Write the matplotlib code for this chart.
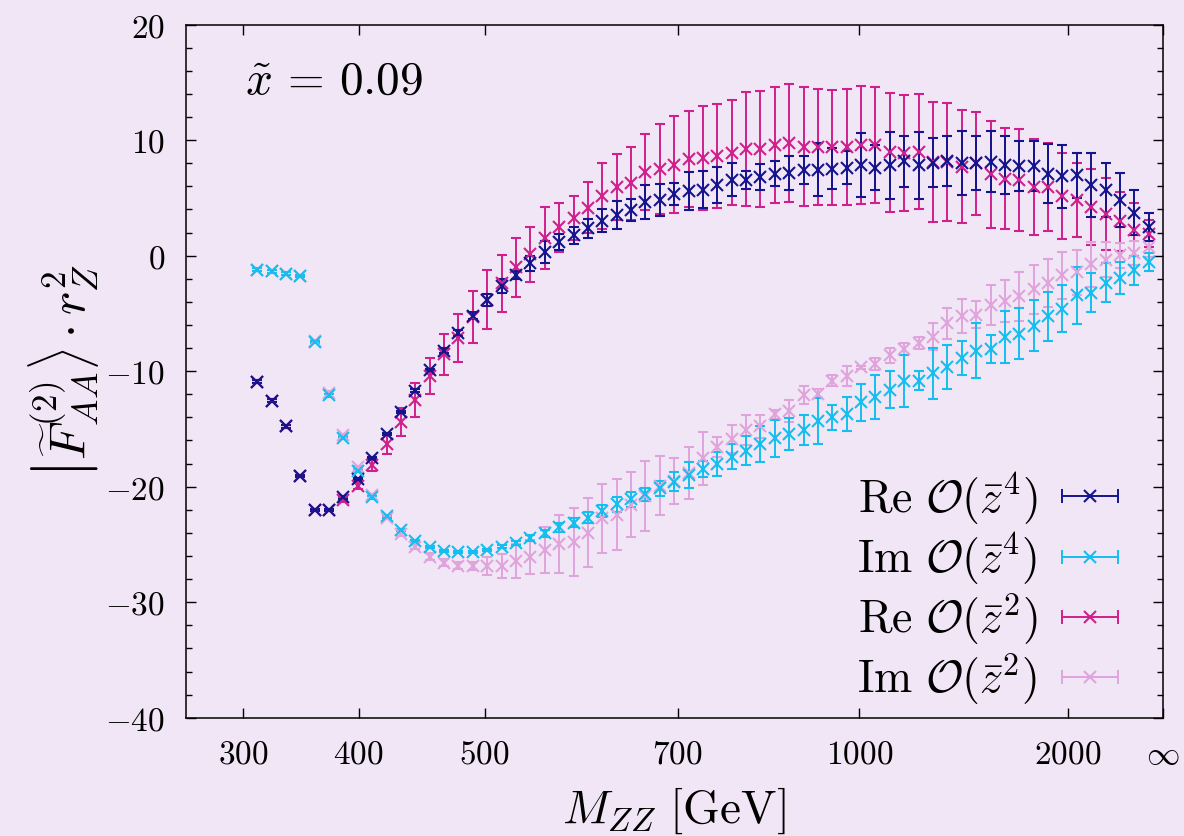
import numpy as np
import matplotlib
matplotlib.use("Agg")
import matplotlib.pyplot as plt
from matplotlib.lines import Line2D
from matplotlib.legend_handler import HandlerLine2D
from matplotlib.ticker import FixedLocator, FixedFormatter, MultipleLocator, NullLocator

plt.rcParams['mathtext.fontset'] = 'cm'
plt.rcParams['font.family'] = ['DejaVu Serif']

# ---------------- data ----------------
M_ZZ = [309.4, 319.7, 330.6, 342.4, 355.0, 368.6, 383.2, 399.1, 408.8, 418.6,
        428.8, 439.6, 450.9, 462.8, 475.3, 488.6, 502.0, 512.9, 524.4, 536.3,
        548.9, 562.0, 575.8, 590.3, 605.4, 621.5, 638.4, 656.2, 675.0, 695.0,
        712.8, 730.5, 749.1, 768.6, 789.2, 810.9, 833.8, 858.1, 883.9, 911.2,
        940.2, 971.3, 1004.4, 1040.5, 1079.2, 1121.0, 1166.1, 1214.9, 1268.1, 1326.1,
        1389.7, 1459.6, 1536.8, 1622.9, 1719.1, 1827.5, 1950.4, 2211.4, 2656.0, 3324.0,
        4441.0, 6689.0, 13550.0]

re_z4 = [-10.9, -12.55, -14.78, -19.1, -22.03, -22.03, -20.93, -19.34, -17.5, -15.45,
         -13.56, -11.68, -9.92, -8.21, -6.71, -5.18, -3.85, -2.62, -1.68, -0.64,
         0.31, 1.18, 1.76, 2.39, 3.03, 3.5, 3.96, 4.65, 4.8, 5.32,
         5.6, 5.72, 6.1, 6.59, 6.53, 6.82, 7.11, 7.16, 7.4, 7.46,
         7.54, 7.63, 7.83, 7.63, 7.83, 8.18, 7.83, 8.03, 8.18, 8.03,
         8.03, 8.12, 7.83, 7.74, 7.74, 7.11, 6.88, 6.96, 6.1, 5.72,
         4.8, 3.7, 2.48]
re_z4_err = [0.1, 0.1, 0.1, 0.1, 0.1, 0.1, 0.1, 0.1, 0.1, 0.1,
             0.1, 0.1, 0.1, 0.2, 0.25, 0.3, 0.53, 0.58, 0.35, 0.65,
             0.94, 0.72, 0.75, 0.82, 1.0, 1.23, 0.94, 1.45, 1.4, 0.97,
             1.66, 1.62, 1.55, 1.42, 0.78, 1.16, 1.07, 1.45, 1.19, 2.27,
             1.76, 1.45, 2.75, 1.92, 2.88, 2.2, 2.92, 2.12, 2.17, 2.79,
             2.31, 2.65, 2.5, 2.18, 2.17, 2.54, 2.72, 1.95, 2.77, 2.33,
             2.34, 1.95, 1.21]

im_z4 = [-1.2, -1.36, -1.55, -1.78, -7.49, -12.1, -15.8, -18.62, -20.93, -22.58,
         -23.75, -24.69, -25.21, -25.56, -25.65, -25.65, -25.5, -25.18, -24.87, -24.46,
         -24.03, -23.53, -23.13, -22.67, -22.09, -21.51, -21.08, -20.67, -20.15, -19.58,
         -18.97, -18.48, -18.04, -17.41, -16.89, -16.31, -15.82, -15.44, -15.09, -14.28,
         -14.0, -13.71, -12.7, -12.2, -11.6, -10.85, -10.82, -10.2, -9.63, -8.87,
         -8.21, -8.07, -7.08, -6.77, -6.05, -5.26, -4.6, -3.44, -3.21, -2.34,
         -1.91, -1.27, -0.55]
im_z4_err = [0.1, 0.1, 0.1, 0.1, 0.1, 0.1, 0.1, 0.1, 0.1, 0.1,
             0.1, 0.1, 0.1, 0.1, 0.1, 0.1, 0.1, 0.1, 0.2, 0.25,
             0.3, 0.35, 0.4, 0.45, 0.5, 0.64, 0.65, 0.55, 0.65, 0.82,
             1.15, 0.7, 1.04, 1.07, 1.27, 1.56, 1.59, 1.38, 1.3, 2.0,
             1.1, 1.47, 1.59, 1.9, 1.62, 2.25, 0.8, 2.17, 1.94, 1.47,
             2.37, 1.24, 2.25, 2.2, 2.17, 2.1, 2.05, 2.45, 1.7, 1.68,
             1.38, 1.24, 0.81]

re_z2 = [-10.9, -12.55, -14.78, -19.1, -22.03, -22.03, -21.16, -19.92, -18.15, -16.3,
         -14.4, -12.5, -10.4, -8.55, -7.12, -5.33, -3.8, -2.4, -1.0, 0.11,
         1.53, 2.45, 3.23, 4.16, 5.15, 5.93, 6.25, 7.23, 7.48, 7.89,
         8.38, 8.46, 8.63, 8.92, 9.24, 9.25, 9.6, 9.77, 9.42, 9.42,
         9.37, 9.42, 9.57, 9.57, 8.95, 8.9, 8.99, 8.12, 8.12, 7.7,
         8.0, 7.05, 6.68, 6.53, 5.95, 5.95, 5.14, 4.8, 4.22, 3.58,
         2.97, 2.25, 1.9]
re_z2_err = [0.1, 0.1, 0.1, 0.1, 0.1, 0.1, 0.2, 0.3, 0.45, 0.85,
             1.23, 1.45, 1.57, 1.81, 2.05, 2.26, 2.55, 2.49, 2.57, 2.38,
             2.65, 2.14, 1.91, 2.24, 2.88, 2.86, 3.2, 3.28, 3.9, 4.19,
             4.16, 4.48, 4.47, 4.55, 4.96, 5.03, 5.0, 5.1, 5.15, 5.0,
             5.0, 5.0, 5.1, 5.05, 5.13, 5.03, 4.99, 5.19, 5.09, 4.91,
             4.45, 4.65, 4.34, 4.41, 4.12, 3.79, 3.72, 3.21, 3.3, 3.11,
             2.53, 2.27, 1.16]

im_z2 = [-1.2, -1.36, -1.55, -1.78, -7.4, -11.85, -15.5, -18.3, -20.7, -22.7,
         -24.06, -25.2, -26.05, -26.57, -26.86, -26.89, -26.86, -26.86, -26.43, -26.08,
         -25.47, -24.98, -24.78, -23.97, -22.75, -22.41, -21.55, -20.79, -19.92, -19.49,
         -18.85, -17.55, -16.6, -15.85, -15.1, -14.78, -13.74, -13.45, -12.06, -11.94,
         -10.82, -10.44, -9.66, -9.37, -8.6, -8.08, -7.55, -7.0, -5.87, -5.22,
         -5.1, -4.31, -3.93, -3.53, -2.92, -2.37, -1.71, -1.42, -0.75, -0.35,
         0.03, 0.23, 0.75]
im_z2_err = [0.1, 0.1, 0.1, 0.1, 0.1, 0.1, 0.1, 0.1, 0.1, 0.1,
             0.2, 0.2, 0.3, 0.3, 0.3, 0.35, 0.78, 1.07, 1.47, 1.47,
             2.02, 2.52, 2.92, 2.95, 2.95, 3.04, 2.83, 3.04, 2.54, 2.0,
             2.25, 2.31, 0.87, 1.19, 1.27, 1.0, 0.4, 0.95, 0.8, 0.4,
             0.5, 0.87, 0.15, 0.55, 0.65, 0.48, 0.52, 1.2, 1.35, 1.45,
             1.2, 1.73, 1.85, 2.1, 2.1, 2.05, 2.0, 1.95, 1.95, 1.52,
             1.1, 1.08, 0.87]

x_ticks = [300, 400, 500, 700, 1000, 2000, 1e9]
x_ticklabels = ['$300$', '$400$', '$500$', '$700$', '$1000$', '$2000$', r'$\infty$']
y_ticks = [-40, -30, -20, -10, 0, 10, 20]
y_ticklabels = ['$-40$', '$-30$', '$-20$', '$-10$', '$0$', '$10$', '$20$']

labels = [r'$\mathrm{Re}\ \mathcal{O}(\bar{z}^4)$', r'$\mathrm{Im}\ \mathcal{O}(\bar{z}^4)$',
          r'$\mathrm{Re}\ \mathcal{O}(\bar{z}^2)$', r'$\mathrm{Im}\ \mathcal{O}(\bar{z}^2)$']
colors = ['#14148C', '#14BEEE', '#D0208C', '#E0A4DC']

# ---------------- x-axis scale (nonlinear M_ZZ axis with infinity) ----------------
_U = np.array([0.0, 1/2000, 1/1000, 1/700, 1/500, 1/400, 1/300, 1/250, 1/100])
_P = np.array([1162.7, 1067.7, 859.3, 677.7, 484.7, 358.7, 243.3, 151.0, -679.7])


def fwd(m):
    m = np.asarray(m, dtype=float)
    u = 1.0 / np.where(m > 0, m, 1e-3)
    return np.interp(u, _U, _P)


def inv(p):
    p = np.asarray(p, dtype=float)
    u = np.interp(p, _P[::-1], _U[::-1])
    return np.where(u > 0, 1.0 / np.maximum(u, 1e-300), 1e12)


bg = '#F1E6F6'
fig = plt.figure(figsize=(11.84, 8.36), dpi=100, facecolor=bg)
ax = fig.add_axes([0.1571, 0.1415, 0.982 - 0.1571, 0.9705 - 0.1415])
ax.set_facecolor(bg)
ax.set_xscale('function', functions=(fwd, inv))

ekw = dict(fmt='x', markersize=9, markeredgewidth=1.5, elinewidth=1.4,
           capsize=3.8, capthick=1.4)
series = [(re_z2, re_z2_err, colors[2]), (im_z2, im_z2_err, colors[3]),
          (re_z4, re_z4_err, colors[0]), (im_z4, im_z4_err, colors[1])]
for y, e, c in series:
    ax.errorbar(M_ZZ, y, yerr=e, color=c, **ekw)

ax.set_xlim(266.9, 1e9)
ax.set_ylim(-40, 20)
ax.xaxis.set_major_locator(FixedLocator(x_ticks))
ax.xaxis.set_major_formatter(FixedFormatter(x_ticklabels))
ax.xaxis.set_minor_locator(NullLocator())
ax.yaxis.set_major_locator(FixedLocator(y_ticks))
ax.yaxis.set_major_formatter(FixedFormatter(y_ticklabels))
ax.yaxis.set_minor_locator(MultipleLocator(2))
ax.tick_params(which='both', direction='in', top=True, right=True, width=1.0, colors='black')
ax.tick_params(which='major', length=7.5, pad=15, labelsize=24)
ax.tick_params(which='minor', length=4)
for s in ax.spines.values():
    s.set_linewidth(1.1)

ax.set_xlabel(r'$M_{ZZ}\ [\mathrm{GeV}]$', fontsize=34, labelpad=11)
ax.set_ylabel(r'$\left|\widetilde{F}^{(2)}_{AA}\right\rangle \cdot r_Z^2$', fontsize=36, labelpad=3)

ax.text(0.0604, 0.901, r'$\tilde{x}\,=\,0.09$', transform=ax.transAxes, fontsize=34,
        ha='left', va='baseline')

handles = []
hmap = {}
for c in colors:
    cap_line = Line2D([], [], color=c, lw=1.4, marker='|', markersize=10, markeredgewidth=1.4)
    xm = Line2D([], [], color=c, ls='none', marker='x', markersize=9, markeredgewidth=1.5)
    hmap[cap_line] = HandlerLine2D(numpoints=2, marker_pad=0)
    handles.append((cap_line, xm))

ax.legend(handles, labels, loc='lower right', bbox_to_anchor=(0.9545, 0.016),
          frameon=False, markerfirst=False, fontsize=33, handlelength=1.22,
          handletextpad=0.55, labelspacing=0.08, borderpad=0, borderaxespad=0,
          handler_map=hmap)

fig.savefig('out.png', dpi=100, facecolor=bg)
